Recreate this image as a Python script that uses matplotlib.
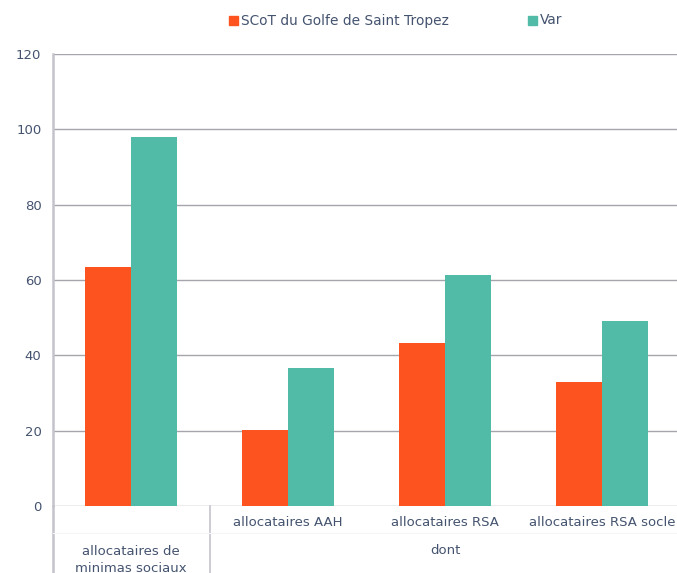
import matplotlib
matplotlib.use("Agg")
import matplotlib.pyplot as plt
import numpy as np

categories = ["allocataires de\nminimas sociaux", "allocataires AAH", "allocataires RSA", "allocataires RSA socle"]
group_label = "dont"
series_names = ["SCoT du Golfe de Saint Tropez", "Var"]
scot = [63.4, 20.2, 43.3, 32.9]
var = [98.0, 36.6, 61.3, 49.1]
yticks = [0, 20, 40, 60, 80, 100, 120]

c_orange = "#FC531F"
c_teal = "#52BBA8"
txt = "#44536F"
grid_c = "#A5A5AD"
axis_c = "#C3C3CB"

W, H = 677, 573
fig = plt.figure(figsize=(W/100, H/100), dpi=100)
left_px, right_px, top_px, bot_px = 52.5, 677, 54, 506
ax = fig.add_axes([left_px/W, 1-bot_px/H, (right_px-left_px)/W, (bot_px-top_px)/H])

x = np.arange(len(categories))
bw = 0.29
ax.bar(x - bw/2, scot, bw, color=c_orange, zorder=3, label=series_names[0])
ax.bar(x + bw/2, var, bw, color=c_teal, zorder=3, label=series_names[1])

xmax = -0.5 + (right_px-left_px)/157.0
ax.set_xlim(-0.5, xmax)
ax.set_ylim(0, 120)
ax.set_yticks(yticks)
ax.set_yticklabels([str(v) for v in yticks], color=txt, fontsize=9.5)
ax.tick_params(axis='y', length=0, pad=8)
ax.set_xticks([])
for s in ["top", "right", "bottom"]:
    ax.spines[s].set_visible(False)
ax.spines["left"].set_color(axis_c)
ax.spines["left"].set_linewidth(1.8)
for v in yticks:
    ax.axhline(v, color=grid_c, lw=1.0, zorder=1)

# multi-level x labels
trans = ax.get_xaxis_transform()
def yax(px):
    return (bot_px - px) / (bot_px - top_px)
ax.plot([-0.5, -0.5], [0, yax(573)], transform=trans, color=axis_c, lw=1.8, clip_on=False)
ax.plot([0.5, 0.5], [0, yax(573)], transform=trans, color=axis_c, lw=1.2, clip_on=False)
ax.plot([-0.5, xmax], [yax(533), yax(533)], transform=trans, color="#F6F6F8", lw=0.8, clip_on=False)
for i in range(1, 4):
    ax.text(x[i], yax(523), categories[i], transform=trans, ha='center', va='center', color=txt, fontsize=9.5)
ax.text(x[0], yax(560), categories[0], transform=trans, ha='center', va='center', color=txt, fontsize=9.5, linespacing=1.35)
ax.text(2, yax(550), group_label, transform=trans, ha='center', va='center', color=txt, fontsize=9.5)

# legend
fig.patches.append(plt.Rectangle((229/W, 1-25/H), 9/W, 9/H, transform=fig.transFigure, color=c_orange))
fig.text(241/W, 1-20.5/H, series_names[0], color=txt, fontsize=9.9, va='center', ha='left')
fig.patches.append(plt.Rectangle((528/W, 1-25/H), 9/W, 9/H, transform=fig.transFigure, color=c_teal))
fig.text(540/W, 1-20.5/H, series_names[1], color=txt, fontsize=9.9, va='center', ha='left')

fig.savefig("out.png", dpi=100)
